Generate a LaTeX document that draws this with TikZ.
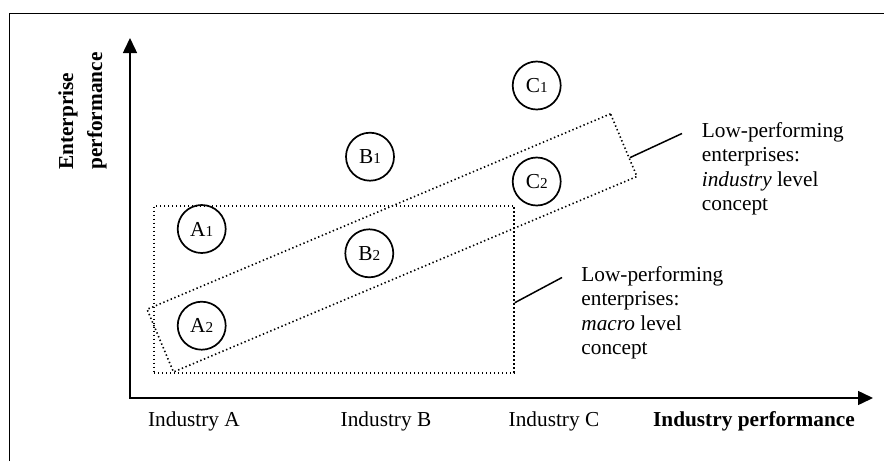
\documentclass[tikz,border=0pt]{standalone}
\usepackage{fontspec}
\setmainfont{Liberation Serif}
\usetikzlibrary{arrows.meta,positioning,calc}
\newcommand{\firmsub}[1]{{\fontsize{7.6}{9}\selectfont #1}}

\begin{document}
\begin{tikzpicture}[
  x=0.5pt, y=-0.5pt,
  every node/.style={font=\fontsize{10.65}{12.25}\selectfont},
  firm/.style={circle, draw, line width=0.85pt, minimum size=24pt, inner sep=0pt},
  zonebox/.style={rectangle, draw, line width=0.8pt, dash pattern=on 0.7pt off 1.3pt, inner sep=0pt},
  note/.style={align=left, anchor=west, inner sep=0pt},
  catlabel/.style={inner sep=0pt},
  axislabel/.style={font=\bfseries\fontsize{10.65}{14.5}\selectfont, inner sep=0pt},
  axisline/.style={{Triangle[length=7.5pt,width=7pt]}-{Triangle[length=7.5pt,width=7pt]}, line width=0.75pt},
  leader/.style={line width=0.75pt}
]
\useasboundingbox (0,0) rectangle (884,461);
\draw[line width=0.7pt] (9.5,461) |- (884,13.3);

% axes
\coordinate (O) at (130,398);
\coordinate (ytip) at (130,38);
\coordinate (xtip) at (873,398);
\draw[axisline] (ytip) -- (O) -- (xtip);

\node[axislabel, rotate=90, align=left, anchor=north west] (ylab) at (58,170) {Enterprise\\performance};
\node[catlabel] (indA) at (194,421.5) {Industry A};
\node[catlabel] (indB) at (386,421.5) {Industry B};
\node[catlabel] (indC) at (554,421.5) {Industry C};
\node[catlabel, font=\bfseries\fontsize{10.65}{12.25}\selectfont] (xlab) at (754,421.5) {Industry performance};

% enterprises
\node[firm] (A1) at (201.7,229) {A\firmsub{1}};
\node[firm] (A2) at (201.7,325.7) {A\firmsub{2}};
\node[firm] (B1) at (370,156.7) {B\firmsub{1}};
\node[firm] (B2) at (369.3,253.3) {B\firmsub{2}};
\node[firm] (C1) at (536.7,85.5) {C\firmsub{1}};
\node[firm] (C2) at (536.7,181.5) {C\firmsub{2}};

% low-performing zones
\node[zonebox, minimum width=180pt, minimum height=83.5pt] (macro) at (334,289.2) {};
\node[zonebox, minimum width=251.5pt, minimum height=34pt, rotate=22.87] (industry) at (392,242.9) {};

\coordinate (indtip) at (682,133.5);
\coordinate (mactip) at (562,277.5);
\draw[leader] ($(industry.north east)!0.7!(industry.south east)$) -- (indtip);
\draw[leader] ($(macro.north east)!0.58!(macro.south east)$) -- (mactip);

\node[note] (indnote) at (701.5,169) {Low-performing\\enterprises:\\\textit{industry} level\\concept};
\node[note] (macnote) at (581,313) {Low-performing\\enterprises:\\\textit{macro} level\\concept};
\end{tikzpicture}
\end{document}
